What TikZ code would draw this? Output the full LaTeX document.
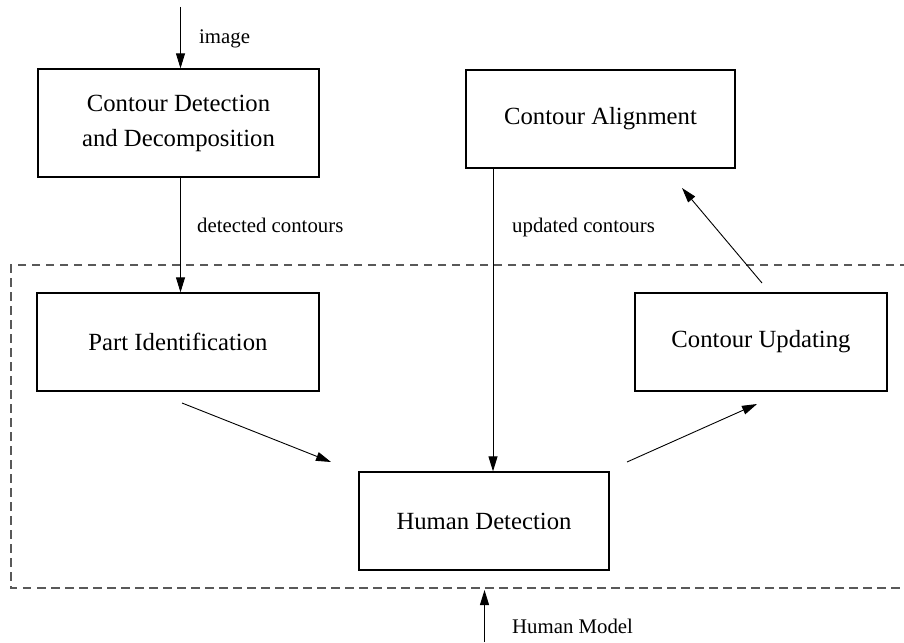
\documentclass[tikz,border=0pt]{standalone}
\usepackage{fontspec}
\setmainfont{Liberation Serif}
\usetikzlibrary{arrows.meta}

\tikzset{
  blk/.style={draw, line width=1.3pt, rectangle, inner sep=0pt, align=center,
              font=\fontsize{24.7}{35}\selectfont},
  lbl/.style={inner sep=0pt, anchor=base west, font=\fontsize{20.8}{25}\selectfont},
  arr/.style={line width=0.9pt, -{Triangle[length=15pt,width=9pt]}},
  region/.style={draw=black!65, line width=1.2pt, dash pattern=on 8.5pt off 5.5pt}
}

\begin{document}
\begin{tikzpicture}[x=1pt, y=-1pt]
  \useasboundingbox (0,0) rectangle (904,642);

  % model region
  \draw[region] (908,265) -- (11,265) -- (11,588) -- (908,588);

  % processing blocks
  \node[blk, minimum width=281pt, minimum height=108pt] (cdd) at (178.5,123)
       {Contour Detection\\and Decomposition};
  \node[blk, minimum width=269pt, minimum height=98pt] (ca) at (600.5,119)
       {Contour Alignment};
  \node[blk, minimum width=282pt, minimum height=98pt] (pi) at (178,342)
       {Part Identification};
  \node[blk, minimum width=252pt, minimum height=98pt] (cu) at (761,342)
       {Contour Updating};
  \node[blk, minimum width=250pt, minimum height=98pt] (hd) at (484,521)
       {Human Detection};

  % free ends of connectors
  \coordinate (img) at (180.5,7);
  \coordinate (dc) at (180.5,0);
  \coordinate (uc) at (493,0);
  \coordinate (piA) at (182,403);
  \coordinate (piB) at (331,462);
  \coordinate (hdA) at (627,462);
  \coordinate (hdB) at (757,404);
  \coordinate (cuA) at (762,283);
  \coordinate (cuB) at (682,188);
  \coordinate (hm) at (484.5,642);
  \coordinate (hmtip) at (484.5,590);

  % connectors
  \draw[arr] (img) -- (img |- cdd.north);
  \draw[arr] (cdd.south -| dc) -- (pi.north -| dc);
  \draw[arr] (ca.south -| uc) -- (hd.north -| uc);
  \draw[arr] (piA) -- (piB);
  \draw[arr] (hdA) -- (hdB);
  \draw[arr] (cuA) -- (cuB);
  \draw[arr] (hm) -- (hmtip);

  % connector labels
  \node[lbl] (limg) at (199,44) {image};
  \node[lbl] (ldc) at (197,232) {detected contours};
  \node[lbl] (luc) at (512,232) {updated contours};
  \node[lbl] (lhm) at (512,633) {Human Model};
\end{tikzpicture}
\end{document}
